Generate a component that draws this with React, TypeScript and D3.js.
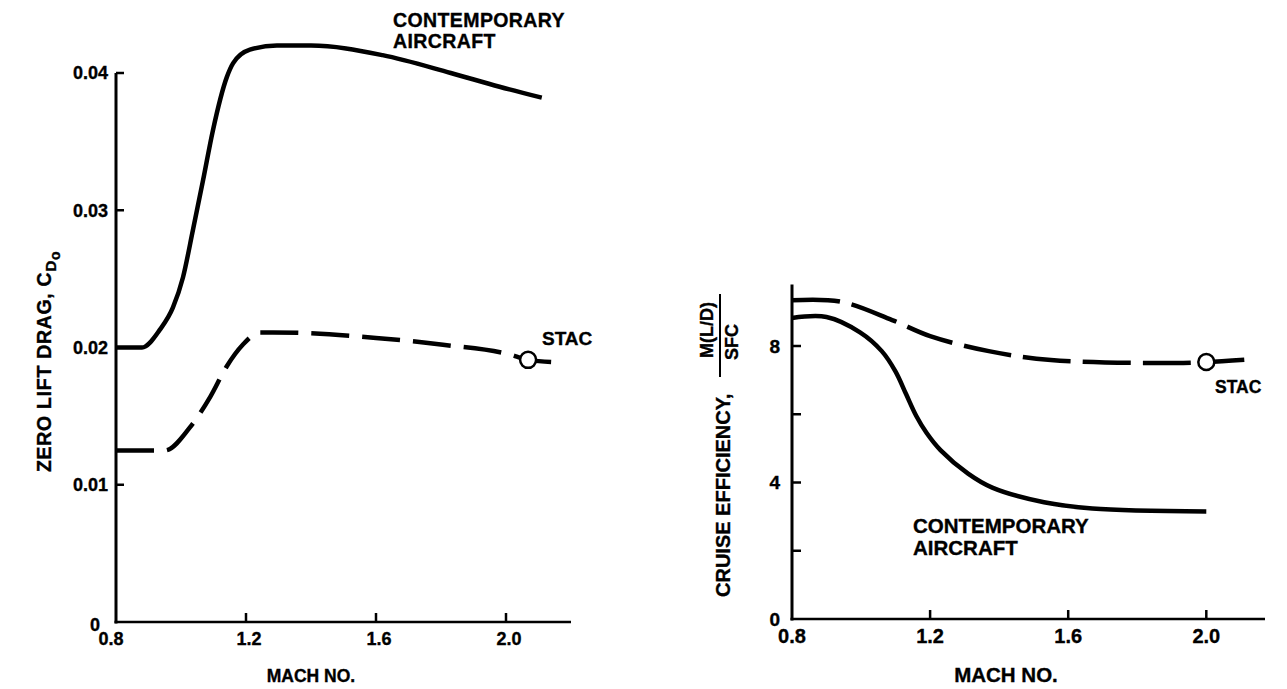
import React, { useEffect, useRef } from "react";
import * as d3 from "d3";

// Mach numbers and tick values
const machTicks = [0.8, 1.2, 1.6, 2.0];
const machTickLabels = ["0.8", "1.2", "1.6", "2.0"];
const dragTicks = [0, 0.01, 0.02, 0.03, 0.04];
const dragTickLabels = ["0", "0.01", "0.02", "0.03", "0.04"];
const effTicks = [0, 2, 4, 6, 8];
const effTickLabels = ["0", "", "4", "", "8"];

// left panel: zero lift drag vs Mach
const dragContemporary: [number, number][] = [
  [0.8, 0.02], [0.88, 0.02], [0.935, 0.0213], [0.975, 0.0229], [1.006, 0.0251],
  [1.037, 0.0286], [1.068, 0.0322], [1.098, 0.0358], [1.141, 0.0397], [1.16, 0.0407],
  [1.212, 0.0417], [1.295, 0.042], [1.4, 0.042], [1.62, 0.0413], [1.83, 0.04],
  [1.98, 0.039], [2.11, 0.0382],
];
const dragStac: [number, number][] = [
  [0.8, 0.0125], [0.95, 0.0125], [1.028, 0.0142], [1.09, 0.0164], [1.14, 0.0186],
  [1.19, 0.0202], [1.243, 0.0211], [1.283, 0.0211], [1.6, 0.0207], [1.806, 0.0202],
  [2.01, 0.0195], [2.068, 0.0191], [2.175, 0.0189],
];
const dragStacPoint: [number, number] = [2.068, 0.0191];

// right panel: cruise efficiency vs Mach
const effContemporary: [number, number][] = [
  [0.8, 8.82], [0.9, 8.85], [0.997, 8.4], [1.06, 7.85], [1.1, 7.25], [1.13, 6.6],
  [1.16, 5.95], [1.19, 5.45], [1.23, 4.95], [1.31, 4.26], [1.38, 3.85], [1.53, 3.42],
  [1.67, 3.24], [2.0, 3.15],
];
const effStac: [number, number][] = [
  [0.8, 9.34], [0.94, 9.3], [1.09, 8.76], [1.2, 8.29], [1.37, 7.85], [1.55, 7.59],
  [1.91, 7.5], [2.0, 7.53], [2.11, 7.6],
];
const effStacPoint: [number, number] = [2.0, 7.53];

const FONT = "'Liberation Sans', Arial, Helvetica, sans-serif";

export default function App() {
  const svgRef = useRef<SVGSVGElement>(null);

  useEffect(() => {
    const svg = d3.select(svgRef.current);
    svg.selectAll("*").remove();
    svg.style("font-family", FONT).style("font-weight", "bold");

    // ---------- left panel ----------
    const xL = d3.scaleLinear().domain([0.8, 2.2]).range([116, 571]);
    const yL = d3.scaleLinear().domain([0, 0.04]).range([622, 73]);
    const gL = svg.append("g");

    gL.append("line")
      .attr("x1", xL(0.8)).attr("x2", xL(0.8))
      .attr("y1", yL(0) + 1.5).attr("y2", yL(0.04))
      .attr("stroke", "#000").attr("stroke-width", 3);
    gL.append("line")
      .attr("x1", xL(0.8) - 1.5).attr("x2", xL(2.2))
      .attr("y1", yL(0)).attr("y2", yL(0))
      .attr("stroke", "#000").attr("stroke-width", 2.5);

    gL.selectAll(".ytick")
      .data(dragTicks.slice(1))
      .enter().append("line")
      .attr("x1", xL(0.8)).attr("x2", xL(0.8) + 8)
      .attr("y1", (d) => yL(d)).attr("y2", (d) => yL(d))
      .attr("stroke", "#000").attr("stroke-width", 2.5);
    gL.selectAll(".xtick")
      .data(machTicks.slice(1))
      .enter().append("line")
      .attr("x1", (d) => xL(d)).attr("x2", (d) => xL(d))
      .attr("y1", yL(0)).attr("y2", yL(0) - 9)
      .attr("stroke", "#000").attr("stroke-width", 2.5);

    gL.selectAll(".ylab")
      .data(dragTicks)
      .enter().append("text")
      .attr("x", (d) => (d === 0 ? 100 : 108))
      .attr("y", (d) => (d === 0 ? yL(d) + 3 : yL(d)))
      .attr("dy", "0.35em")
      .attr("text-anchor", "end")
      .style("font-size", "18px")
      .text((d, i) => dragTickLabels[i]);
    gL.selectAll(".xlab")
      .data(machTicks)
      .enter().append("text")
      .attr("x", (d) => xL(d) + (d === 0.8 ? -5 : 3))
      .attr("y", 645)
      .attr("text-anchor", "middle")
      .style("font-size", "18px")
      .text((d, i) => machTickLabels[i]);

    gL.append("text")
      .attr("x", 311).attr("y", 682)
      .attr("text-anchor", "middle")
      .style("font-size", "17.5px")
      .text("MACH NO.");

    const yTitleL = gL.append("text")
      .attr("transform", "translate(51,472) rotate(-90)")
      .style("font-size", "19.5px")
      .style("letter-spacing", "0.7px");
    yTitleL.append("tspan").text("ZERO LIFT DRAG, C");
    yTitleL.append("tspan").attr("dy", 5).style("font-size", "15px").text("D");
    yTitleL.append("tspan").attr("dy", 4).style("font-size", "14px").text("o");

    const lineL = d3.line<[number, number]>()
      .x((d) => xL(d[0]))
      .y((d) => yL(d[1]))
      .curve(d3.curveMonotoneX);

    gL.append("path")
      .attr("d", lineL(dragContemporary))
      .attr("fill", "none").attr("stroke", "#000")
      .attr("stroke-width", 4.5).attr("stroke-linejoin", "round");
    gL.append("path")
      .attr("d", lineL(dragStac))
      .attr("fill", "none").attr("stroke", "#000")
      .attr("stroke-width", 4.5)
      .attr("stroke-dasharray", "38 13");
    gL.append("circle")
      .attr("cx", xL(dragStacPoint[0])).attr("cy", yL(dragStacPoint[1]))
      .attr("r", 8)
      .attr("fill", "#fff").attr("stroke", "#000").attr("stroke-width", 2.5);

    gL.append("text").attr("x", 542).attr("y", 345)
      .style("font-size", "19px").text("STAC");
    gL.append("text").attr("x", 393).attr("y", 27)
      .style("font-size", "19.5px").style("letter-spacing", "0.4px").text("CONTEMPORARY");
    gL.append("text").attr("x", 393).attr("y", 48)
      .style("font-size", "19.5px").style("letter-spacing", "0.4px").text("AIRCRAFT");

    // ---------- right panel ----------
    const xR = d3.scaleLinear().domain([0.8, 2.17]).range([792, 1265]);
    const yR = d3.scaleLinear().domain([0, 8]).range([619, 346]);
    const gR = svg.append("g");

    gR.append("line")
      .attr("x1", xR(0.8)).attr("x2", xR(0.8))
      .attr("y1", yR(0) + 1.5).attr("y2", yR(9.8))
      .attr("stroke", "#000").attr("stroke-width", 3);
    gR.append("line")
      .attr("x1", xR(0.8) - 1.5).attr("x2", xR(2.17))
      .attr("y1", yR(0)).attr("y2", yR(0))
      .attr("stroke", "#000").attr("stroke-width", 2.5);

    gR.selectAll(".ytick")
      .data(effTicks.slice(1))
      .enter().append("line")
      .attr("x1", xR(0.8)).attr("x2", xR(0.8) + 9)
      .attr("y1", (d) => yR(d)).attr("y2", (d) => yR(d))
      .attr("stroke", "#000").attr("stroke-width", 2.5);
    gR.selectAll(".xtick")
      .data(machTicks.slice(1))
      .enter().append("line")
      .attr("x1", (d) => xR(d)).attr("x2", (d) => xR(d))
      .attr("y1", yR(0)).attr("y2", yR(0) - 9)
      .attr("stroke", "#000").attr("stroke-width", 2.5);

    gR.selectAll(".ylab")
      .data(effTicks)
      .enter().append("text")
      .attr("x", 780)
      .attr("y", (d) => yR(d))
      .attr("dy", "0.35em")
      .attr("text-anchor", "end")
      .style("font-size", "19px")
      .text((d, i) => effTickLabels[i]);
    gR.selectAll(".xlab")
      .data(machTicks)
      .enter().append("text")
      .attr("x", (d) => xR(d))
      .attr("y", 643)
      .attr("text-anchor", "middle")
      .style("font-size", "20px")
      .text((d, i) => machTickLabels[i]);

    gR.append("text")
      .attr("x", 1006).attr("y", 682)
      .attr("text-anchor", "middle")
      .style("font-size", "20.5px")
      .text("MACH NO.");

    gR.append("text")
      .attr("transform", "translate(730,597) rotate(-90)")
      .style("font-size", "20px")
      .text("CRUISE EFFICIENCY,");
    gR.append("text")
      .attr("transform", "translate(713,330) rotate(-90)")
      .attr("text-anchor", "middle")
      .style("font-size", "18px")
      .text("M(L/D)");
    gR.append("line")
      .attr("x1", 720).attr("x2", 720)
      .attr("y1", 294).attr("y2", 377)
      .attr("stroke", "#000").attr("stroke-width", 2);
    gR.append("text")
      .attr("transform", "translate(738,342) rotate(-90)")
      .attr("text-anchor", "middle")
      .style("font-size", "18px")
      .text("SFC");

    const lineR = d3.line<[number, number]>()
      .x((d) => xR(d[0]))
      .y((d) => yR(d[1]))
      .curve(d3.curveCatmullRom.alpha(0.5));

    gR.append("path")
      .attr("d", lineR(effContemporary))
      .attr("fill", "none").attr("stroke", "#000")
      .attr("stroke-width", 4.5).attr("stroke-linejoin", "round");
    gR.append("path")
      .attr("d", lineR(effStac))
      .attr("fill", "none").attr("stroke", "#000")
      .attr("stroke-width", 4.5)
      .attr("stroke-dasharray", "48 12");
    gR.append("circle")
      .attr("cx", xR(effStacPoint[0])).attr("cy", yR(effStacPoint[1]))
      .attr("r", 8)
      .attr("fill", "#fff").attr("stroke", "#000").attr("stroke-width", 2.5);

    gR.append("text").attr("x", 1215).attr("y", 393)
      .style("font-size", "17.5px").text("STAC");
    gR.append("text").attr("x", 913).attr("y", 533)
      .style("font-size", "20.5px").text("CONTEMPORARY");
    gR.append("text").attr("x", 913).attr("y", 555)
      .style("font-size", "20.5px").text("AIRCRAFT");

    // scanned lettering is heavier than the screen font
    svg.selectAll("text")
      .attr("stroke", "#000")
      .attr("stroke-width", 0.35);
  }, []);

  return (
    <svg
      ref={svgRef}
      width={1287}
      height={689}
      style={{ position: "absolute", left: 0, top: 0, background: "#fff" }}
    />
  );
}
